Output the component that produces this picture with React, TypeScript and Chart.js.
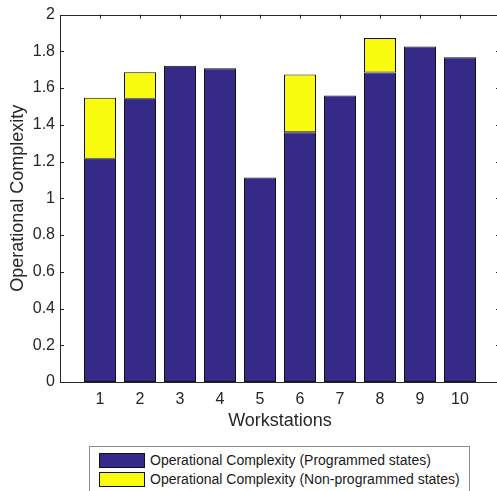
import React, { useEffect, useRef } from 'react';
import { Chart, registerables } from 'chart.js';

Chart.register(...registerables);

const workstations = [1, 2, 3, 4, 5, 6, 7, 8, 9, 10];
const programmed = [1.215, 1.542, 1.722, 1.708, 1.113, 1.36, 1.56, 1.685, 1.827, 1.768];
const nonProgrammed = [0.333, 0.144, null, null, null, 0.314, null, 0.187, null, null];
const seriesLabels = [
  'Operational Complexity (Programmed states)',
  'Operational Complexity (Non-programmed states)',
];
const seriesColors = ['#352a87', '#f9fb0e'];
const xTitle = 'Workstations';
const yTitle = 'Operational Complexity';

const FONT = "'Liberation Sans', Arial, Helvetica, sans-serif";
const AXIS_COLOR = '#262626';

const framePlugin = {
  id: 'matlabFrame',
  beforeDatasetsDraw(chart: any) {
    const { ctx, chartArea, scales } = chart;
    const { left, right, top, bottom } = chartArea;
    const x = scales.x;
    const y = scales.y;
    ctx.save();
    ctx.strokeStyle = AXIS_COLOR;
    ctx.lineWidth = 1;
    ctx.beginPath();
    y.ticks.forEach((t: any) => {
      const py = Math.round(y.getPixelForValue(t.value)) + 0.5;
      ctx.moveTo(left, py);
      ctx.lineTo(left + 4, py);
      ctx.moveTo(right, py);
      ctx.lineTo(right - 4, py);
    });
    x.ticks.forEach((t: any) => {
      if (t.value < workstations[0] || t.value > workstations[workstations.length - 1]) return;
      const px = Math.round(x.getPixelForValue(t.value)) + 0.5;
      ctx.moveTo(px, top);
      ctx.lineTo(px, top + 4);
      ctx.moveTo(px, bottom);
      ctx.lineTo(px, bottom - 4);
    });
    ctx.stroke();
    ctx.restore();
  },
  afterDatasetsDraw(chart: any) {
    const { ctx, chartArea } = chart;
    const { left, right, top, bottom } = chartArea;
    ctx.save();
    ctx.strokeStyle = AXIS_COLOR;
    ctx.lineWidth = 1;
    ctx.strokeRect(Math.round(left) + 0.5, Math.round(top) + 0.5, Math.round(right - left), Math.round(bottom - top));
    ctx.restore();
  },
};

export default function App() {
  const canvasRef = useRef<HTMLCanvasElement | null>(null);

  useEffect(() => {
    const canvas = canvasRef.current;
    if (!canvas) return;
    const chart = new Chart(canvas, {
      type: 'bar',
      data: {
        datasets: [
          {
            label: seriesLabels[0],
            data: workstations.map((w, i) => ({ x: w, y: programmed[i] })) as any,
            backgroundColor: seriesColors[0],
            borderColor: '#111111',
            borderWidth: 1,
            borderSkipped: false,
            barPercentage: 0.8,
            categoryPercentage: 1,
          },
          {
            label: seriesLabels[1],
            data: workstations.map((w, i) => ({ x: w, y: nonProgrammed[i] })) as any,
            backgroundColor: seriesColors[1],
            borderColor: '#111111',
            borderWidth: 1,
            borderSkipped: false,
            barPercentage: 0.8,
            categoryPercentage: 1,
          },
        ],
      },
      options: {
        responsive: false,
        animation: false,
        devicePixelRatio: 1,
        layout: { padding: { left: 0, top: 12, right: 10, bottom: 59 } },
        plugins: {
          legend: { display: false },
          tooltip: { enabled: false },
        },
        scales: {
          x: {
            type: 'linear',
            stacked: true,
            offset: false,
            min: 0,
            max: 11,
            grid: { display: false, drawTicks: false, offset: false },
            border: { display: false },
            ticks: {
              stepSize: 1,
              autoSkip: false,
              maxRotation: 0,
              padding: 8,
              color: AXIS_COLOR,
              font: { family: FONT, size: 16 },
              callback: (v: any) =>
                v >= workstations[0] && v <= workstations[workstations.length - 1] ? String(v) : '',
            },
            title: {
              display: true,
              text: xTitle,
              color: AXIS_COLOR,
              font: { family: FONT, size: 18 },
              padding: { top: 0, bottom: 0 },
            },
            afterFit: (scale: any) => {
              scale.height = 50;
            },
          },
          y: {
            stacked: true,
            min: 0,
            max: 2,
            grid: { display: false, drawTicks: false },
            border: { display: false },
            ticks: {
              stepSize: 0.2,
              padding: 5,
              color: AXIS_COLOR,
              font: { family: FONT, size: 16 },
              callback: (v: any) => String(Math.round(Number(v) * 10) / 10),
            },
            title: {
              display: true,
              text: yTitle,
              color: AXIS_COLOR,
              font: { family: FONT, size: 18 },
              padding: { top: 7, bottom: 0 },
            },
            afterFit: (scale: any) => {
              scale.width = 60;
            },
          },
        },
      },
      plugins: [framePlugin],
    });
    return () => chart.destroy();
  }, []);

  return (
    <div
      style={{
        position: 'absolute',
        left: 0,
        top: 0,
        width: 497,
        height: 491,
        overflow: 'hidden',
        background: '#ffffff',
      }}
    >
      <canvas ref={canvasRef} width={510} height={491} style={{ display: 'block', width: 510, height: 491 }} />
      <div
        style={{
          position: 'absolute',
          left: 89,
          top: 446,
          width: 381,
          height: 60,
          boxSizing: 'border-box',
          border: '1px solid #8c8c8c',
          background: '#ffffff',
          fontFamily: FONT,
          fontSize: 14,
          color: '#1a1a1a',
        }}
      >
        {seriesLabels.map((label, i) => (
          <div
            key={label}
            style={{
              position: 'absolute',
              left: 9,
              top: 5 + i * 19,
              height: 16,
              display: 'flex',
              alignItems: 'center',
              whiteSpace: 'nowrap',
            }}
          >
            <span
              style={{
                display: 'inline-block',
                width: 46,
                height: 15,
                boxSizing: 'border-box',
                background: seriesColors[i],
                border: '1px solid #111111',
                marginRight: 5,
              }}
            />
            <span style={{ lineHeight: '16px' }}>{label}</span>
          </div>
        ))}
      </div>
    </div>
  );
}
